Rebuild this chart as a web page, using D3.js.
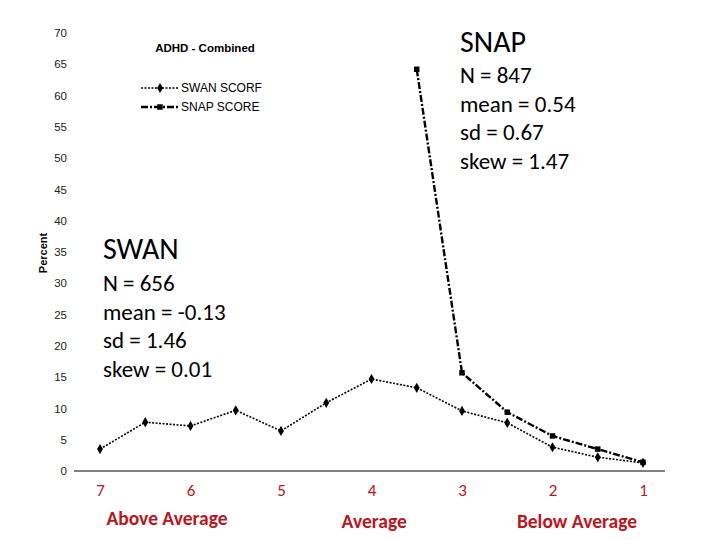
<!DOCTYPE html>
<html><head><meta charset="utf-8">
<script src="https://cdn.jsdelivr.net/npm/d3@7"></script>
<style>body{margin:0;background:#fff}svg{display:block}</style>
</head><body>
<svg id="c" width="720" height="540"></svg>
<script>
const swanX = [7,6.5,6,5.5,5,4.5,4,3.5,3,2.5,2,1.5,1];
const swanY = [3.5,7.8,7.2,9.7,6.4,10.9,14.7,13.3,9.6,7.7,3.8,2.2,1.3];
const snapX = [3.5,3,2.5,2,1.5,1];
const snapY = [64.2,15.7,9.4,5.6,3.5,1.4];
const yTicks = [0,5,10,15,20,25,30,35,40,45,50,55,60,65,70];
const xTicks = [7,6,5,4,3,2,1];
const groupLabels = [{t:"Above Average",x:6.26,dy:0},{t:"Average",x:3.97,dy:3},{t:"Below Average",x:1.73,dy:3}];
const snapStats = ["SNAP","N = 847","mean = 0.54","sd = 0.67","skew = 1.47"];
const swanStats = ["SWAN","N = 656","mean = -0.13","sd = 1.46","skew = 0.01"];

const svg = d3.select("#c");
const x = d3.scaleLinear().domain([7,1]).range([100,643]);
const y = d3.scaleLinear().domain([0,70]).range([471,33]);

const ya = svg.append("g").attr("transform","translate(67,0)")
  .call(d3.axisLeft(y).tickValues(yTicks).tickSize(0).tickPadding(0));
ya.select(".domain").remove();
ya.selectAll("text").attr("font-family","Liberation Sans, Arial").attr("font-size",11.5).attr("fill","#222");

svg.append("line").attr("x1",74).attr("x2",665).attr("y1",y(0)).attr("y2",y(0)).attr("stroke","#000").attr("stroke-width",1.2);

svg.append("text").attr("transform","translate(47,253) rotate(-90)").attr("text-anchor","middle")
  .attr("font-family","Liberation Sans, Arial").attr("font-weight","bold").attr("font-size",11).text("Percent");

const xa = svg.append("g").attr("transform",`translate(0,${y(0)+13})`)
  .call(d3.axisBottom(x).tickValues(xTicks).tickSize(0).tickPadding(0).tickFormat(d3.format("d")));
xa.select(".domain").remove();
xa.selectAll("text").attr("font-family","Carlito, Lato, Open Sans").attr("font-size",17).attr("fill","#c0141c");

svg.selectAll(".grp").data(groupLabels).join("text")
  .attr("x",d=>x(d.x)).attr("y",d=>525+d.dy).attr("text-anchor","middle")
  .attr("font-family","Carlito, Lato, Open Sans").attr("font-weight","bold").attr("font-size",19.5)
  .attr("fill","#c0141c").text(d=>d.t);

svg.append("text").attr("x",205).attr("y",52).attr("text-anchor","middle")
  .attr("font-family","Liberation Sans, Arial").attr("font-weight","bold").attr("font-size",11.5).text("ADHD - Combined");

const line = d3.line().x(d=>x(d[0])).y(d=>y(d[1]));
const swan = swanX.map((v,i)=>[v,swanY[i]]);
const snap = snapX.map((v,i)=>[v,snapY[i]]);
svg.append("path").datum(swan).attr("d",line).attr("fill","none").attr("stroke","#000").attr("stroke-width",1.6).attr("stroke-dasharray","2,1.5");
svg.append("path").datum(snap).attr("d",line).attr("fill","none").attr("stroke","#000").attr("stroke-width",2.4).attr("stroke-dasharray","7,2,2,2");
const diamond = d3.symbol().type(d3.symbolDiamond).size(30);
const square = d3.symbol().type(d3.symbolSquare).size(30);
svg.selectAll(".sw").data(swan).join("path").attr("transform",d=>`translate(${x(d[0])},${y(d[1])})`).attr("d",diamond).attr("fill","#000");
svg.selectAll(".sn").data(snap).join("path").attr("transform",d=>`translate(${x(d[0])},${y(d[1])})`).attr("d",square).attr("fill","#000");

const lg = svg.append("g");
lg.append("line").attr("x1",141).attr("x2",179).attr("y1",88).attr("y2",88).attr("stroke","#000").attr("stroke-width",1.4).attr("stroke-dasharray","2,1.5");
lg.append("path").attr("transform","translate(160,88)").attr("d",diamond).attr("fill","#000");
lg.append("line").attr("x1",141).attr("x2",179).attr("y1",107).attr("y2",107).attr("stroke","#000").attr("stroke-width",2.4).attr("stroke-dasharray","7,2,2,2");
lg.append("path").attr("transform","translate(160,107)").attr("d",square).attr("fill","#000");
lg.append("text").attr("x",181).attr("y",92).attr("font-family","Liberation Sans, Arial").attr("font-size",12).text("SWAN SCORF");
lg.append("text").attr("x",181).attr("y",111).attr("font-family","Liberation Sans, Arial").attr("font-size",12).text("SNAP SCORE");

function stats(arr, x0, y0, y1){
  const g = svg.append("g");
  arr.forEach((t,i)=>{
    g.append("text").attr("x",x0).attr("y", i===0 ? y0 : y1 + (i-1)*28.6)
      .attr("font-family","Carlito, Lato, Open Sans").attr("font-size", i===0?30:23).attr("fill","#000").text(t);
  });
}
stats(snapStats, 460, 52, 83);
stats(swanStats, 103, 259, 291);
</script>
</body></html>
